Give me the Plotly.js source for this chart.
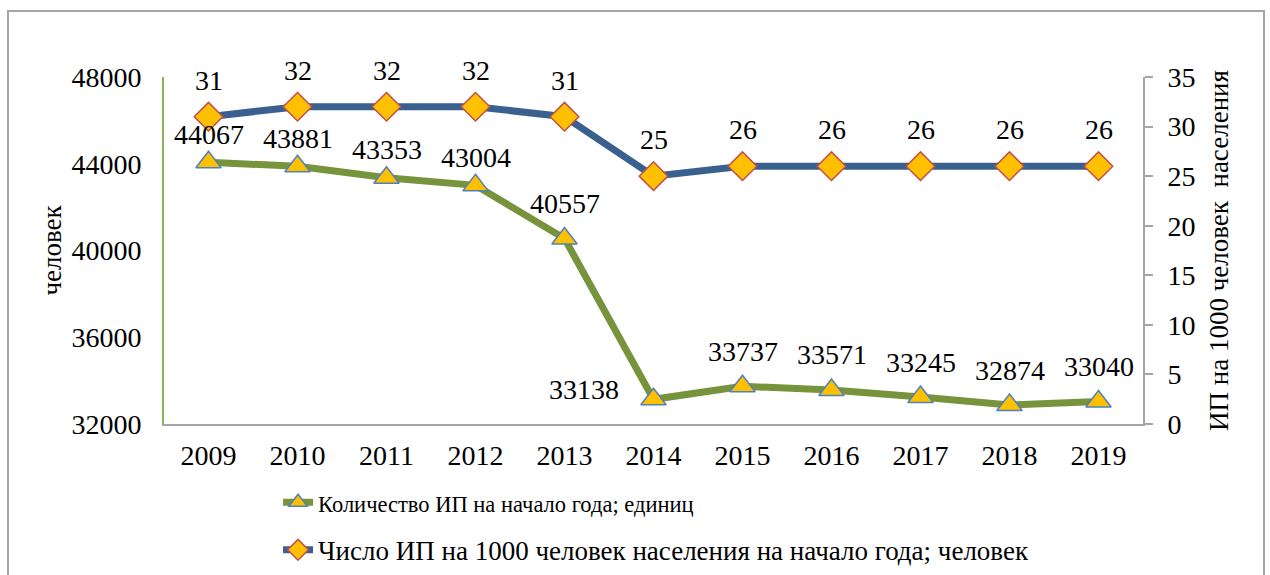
<!DOCTYPE html>
<html>
<head>
<meta charset="utf-8">
<script src="https://cdn.plot.ly/plotly-3.0.1.min.js"></script>
<style>
  html, body { margin: 0; padding: 0; background: #fff; }
  #wrap { position: relative; width: 1270px; height: 575px; overflow: hidden; }
  #chart { position: absolute; left: 0; top: 0; width: 1270px; height: 620px; }
  #frame { position: absolute; left: 7px; top: 10px; width: 1254px; height: 580px; border: 2px solid #A6A6A6; pointer-events: none; }
</style>
</head>
<body>
<div id="wrap">
  <div id="chart"></div>
  <div id="frame"></div>
</div>
<script>
// ---- data ----
const years = ['2009','2010','2011','2012','2013','2014','2015','2016','2017','2018','2019'];
const countIP = [44067, 43881, 43353, 43004, 40557, 33138, 33737, 33571, 33245, 32874, 33040];
const per1000 = [31, 32, 32, 32, 31, 25, 26, 26, 26, 26, 26];
const nameCount = 'Количество ИП на начало года; единиц';
const namePer1000 = 'Число ИП на 1000 человек населения на начало года; человек';
const leftTitle = 'человек';
const rightTitle = 'ИП на 1000 человек  населения';

const FONT = 'Liberation Serif';
const FS = 28;
const FS_TITLE = 27;
const FS_LEG = 25;

const traces = [
  {
    x: years, y: countIP, type: 'scatter', mode: 'lines+markers',
    name: '<span style="font-size:22.5px">' + nameCount + '</span>',
    yaxis: 'y', legendgroup: 'a',
    line: { color: '#77933C', width: 7 },
    marker: { symbol: 'triangle-up', size: 22, color: '#FFC000', line: { color: '#4F81BD', width: 1.5 } },
    hoverinfo: 'skip'
  },
  {
    x: years, y: per1000, type: 'scatter', mode: 'lines+markers',
    name: '<span style="font-size:27px">' + namePer1000 + '</span>',
    yaxis: 'y2', legendgroup: 'b',
    line: { color: '#3A6090', width: 7 },
    marker: { symbol: 'diamond', size: 22, color: '#FFC000', line: { color: '#C0504D', width: 1.5 } },
    hoverinfo: 'skip'
  }
];

const annotations = [];
years.forEach((yr, i) => {
  let dx = 0, dy = 35;
  if (i <= 3) dy = 28;
  if (i === 5) { dx = -70; dy = 10; }
  annotations.push({
    x: i, y: countIP[i], xref: 'x', yref: 'y', text: String(countIP[i]),
    showarrow: false, xanchor: 'center', yanchor: 'middle', xshift: dx, yshift: dy,
    font: { family: FONT, size: FS, color: '#000' }
  });
  annotations.push({
    x: i, y: per1000[i], xref: 'x', yref: 'y2', text: String(per1000[i]),
    showarrow: false, xanchor: 'center', yanchor: 'middle', yshift: 36.5,
    font: { family: FONT, size: FS, color: '#000' }
  });
});

const layout = {
  width: 1270, height: 620,
  margin: { l: 164, r: 127, t: 77, b: 196 },
  paper_bgcolor: 'rgba(0,0,0,0)', plot_bgcolor: 'rgba(0,0,0,0)',
  font: { family: FONT, size: FS, color: '#000' },
  showlegend: true,
  legend: {
    orientation: 'v', x: 0.1165, y: -0.16, xanchor: 'left', yanchor: 'top',
    font: { family: FONT, size: FS_LEG, color: '#000' }, tracegroupgap: 12,
    bgcolor: 'rgba(0,0,0,0)'
  },
  xaxis: {
    type: 'category', range: [-0.5, 10.5], showgrid: false, zeroline: false,
    showline: true, linecolor: '#A6A6A6', linewidth: 2,
    ticks: 'outside', ticklen: 5, tickcolor: 'rgba(0,0,0,0)',
    tickfont: { family: FONT, size: FS, color: '#000' }, fixedrange: true
  },
  yaxis: {
    range: [32000, 48000], dtick: 4000, tickformat: 'd', showgrid: false, zeroline: false,
    showline: true, linecolor: '#8FB35A', linewidth: 2, ticks: '',
    ticklabelstandoff: 15,
    tickfont: { family: FONT, size: FS, color: '#000' },
    title: { text: leftTitle, standoff: 2, font: { family: FONT, size: FS_TITLE, color: '#000' } },
    fixedrange: true
  },
  yaxis2: {
    range: [0, 35], dtick: 5, overlaying: 'y', side: 'right', showgrid: false, zeroline: false,
    showline: true, linecolor: '#A6A6A6', linewidth: 2,
    ticks: 'outside', ticklen: 8, tickcolor: '#A6A6A6', tickwidth: 2,
    ticklabelstandoff: 9,
    tickfont: { family: FONT, size: FS, color: '#000' },
    title: { text: rightTitle, standoff: 15, font: { family: FONT, size: FS_TITLE, color: '#000' } },
    fixedrange: true
  },
  annotations: annotations
};

Plotly.newPlot('chart', traces, layout, { displayModeBar: false, staticPlot: true });
</script>
</body>
</html>
